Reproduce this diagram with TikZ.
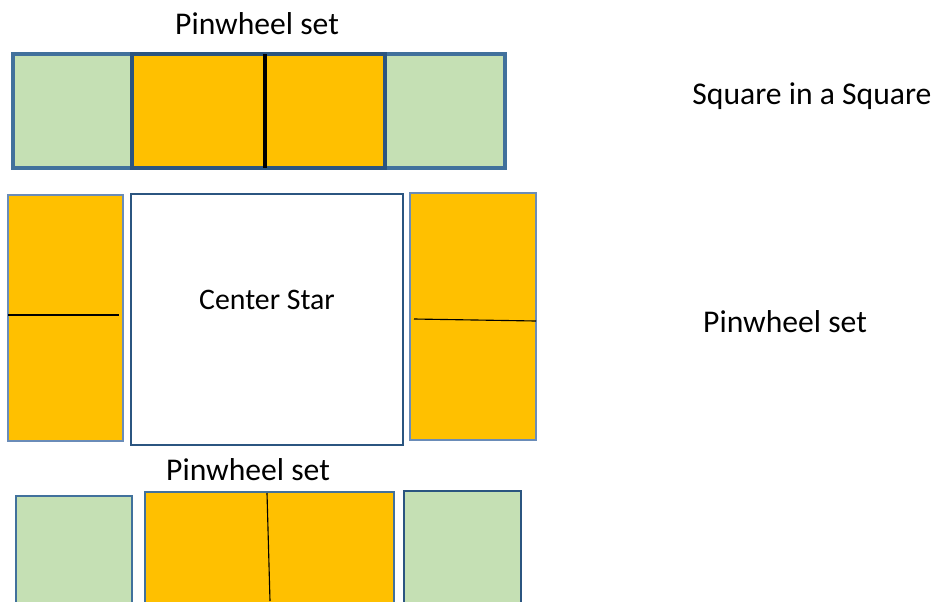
\documentclass[tikz,border=0pt]{standalone}
\usepackage{fontspec}
\setmainfont{Carlito}
\usepackage{tikz}
\usetikzlibrary{positioning}
\definecolor{edgeblue}{HTML}{41719C}
\definecolor{paleblue}{HTML}{6A8CB8}
\definecolor{darkedge}{HTML}{2B5580}
\definecolor{quiltorange}{HTML}{FFC000}
\definecolor{quiltgreen}{HTML}{C5E0B4}
\tikzstyle{greenpatch} = [fill=quiltgreen, draw=edgeblue, line width=2.4pt]
\tikzstyle{orangepatch} = [fill=quiltorange, draw=edgeblue, line width=2.4pt]
\tikzstyle{sidepatch} = [fill=quiltorange, draw=paleblue, line width=1.8pt]
\tikzstyle{starpatch} = [fill=white, draw=darkedge, line width=1.8pt]
\tikzstyle{seam} = [black, line width=0.8pt]
\tikzstyle{caption} = [font=\fontsize{22.5}{27}\selectfont, inner sep=0pt]

\begin{document}
\begin{tikzpicture}[x=0.025cm, y=-0.025cm]
     \useasboundingbox (0,0) rectangle (942,601);
     \clip (0,0) rectangle (942,601);
     % Top row
     \draw [greenpatch] (13,54) rectangle (132,168);
     \draw [greenpatch] (385,54) rectangle (505,168);
     \draw [orangepatch, draw=darkedge] (132,54) rectangle (385,168);
     \draw [seam, line width=2.2pt] (265,54) -- (265,168);
     % Middle row
     \draw [sidepatch] (8,195) rectangle (123,441);
     \draw [seam] (8,315) -- (119,315);
     \draw [starpatch] (131,194) rectangle (403,445);
     \draw [sidepatch] (410,193) rectangle (536,440);
     \draw [seam] (414,319) -- (536,321);
     % Bottom row
     \draw [greenpatch, line width=1.8pt] (16,496) rectangle (132,620);
     \draw [orangepatch, line width=1.8pt] (145,492) rectangle (394,620);
     \draw [seam] (267,493) -- (270,601);
     \draw [greenpatch, draw=darkedge, line width=1.8pt] (404,491) rectangle (521,620);
     % Labels
     \node [caption] (topset) at (257,24) {Pinwheel set};
     \node [caption] (squareinsquare) at (812,96) {Square in a Square};
     \node [caption, font=\fontsize{21.2}{25}\selectfont] (centerstar) at (267,300) {Center Star};
     \node [caption] (sideset) at (785,322) {Pinwheel set};
     \node [caption] (bottomset) at (248,470) {Pinwheel set};
\end{tikzpicture}
\end{document}
